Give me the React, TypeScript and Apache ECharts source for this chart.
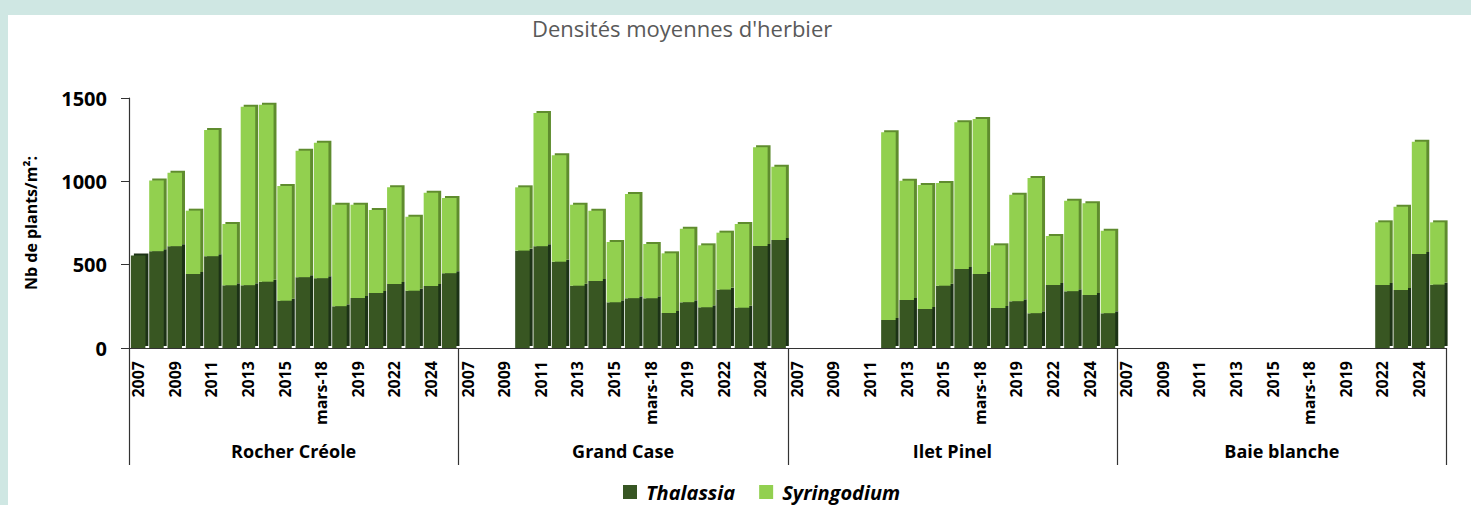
import React, { useEffect, useRef } from "react";
import * as echarts from "echarts";

const sites = ["Rocher Créole", "Grand Case", "Ilet Pinel", "Baie blanche"];
const periods = ["2007", "2008", "2009", "2010", "2011", "2012", "2013", "2014", "2015", "2017", "mars-18", "nov-18", "2019", "2021", "2022", "2023", "2024", "2025"];
const yTicks = [0, 500, 1000, 1500];

const N = null;
const thalassiaRocher = [555, 580, 610, 444, 550, 376, 376, 398, 284, 424, 418, 250, 300, 330, 384, 344, 372, 448];
const syringodiumRocher = [N, 425, 442, 380, 758, 368, 1072, 1062, 688, 760, 814, 610, 560, 498, 580, 444, 560, 452];
const thalassiaGrandCase = [N, N, N, 584, 610, 518, 374, 402, 274, 298, 298, 210, 274, 244, 350, 242, 612, 648];
const syringodiumGrandCase = [N, N, N, 380, 800, 638, 486, 422, 362, 626, 326, 358, 442, 372, 342, 502, 592, 440];
const thalassiaPinel = [N, N, N, N, N, 168, 288, 234, 374, 474, 444, 240, 280, 208, 378, 340, 318, 208];
const syringodiumPinel = [N, N, N, N, N, 1126, 716, 744, 616, 880, 930, 376, 640, 812, 294, 544, 550, 496];
const thalassiaBaie = [N, N, N, N, N, N, N, N, N, N, N, N, N, N, 378, 348, 564, 380];
const syringodiumBaie = [N, N, N, N, N, N, N, N, N, N, N, N, N, N, 376, 500, 674, 374];

const thalassia = [...thalassiaRocher, ...thalassiaGrandCase, ...thalassiaPinel, ...thalassiaBaie];
const syringodium = [...syringodiumRocher, ...syringodiumGrandCase, ...syringodiumPinel, ...syringodiumBaie];
const categories = sites.flatMap((s, si) => periods.map((p) => p + "|" + si));

const FONT = "Open Sans";

export default function App() {
  const ref = useRef<HTMLDivElement>(null);
  useEffect(() => {
    if (!ref.current) return;
    const chart = echarts.init(ref.current, null, { renderer: "svg" });
    chart.setOption({
      animation: false,
      backgroundColor: "#ffffff",
      title: {
        text: "Densités moyennes d'herbier",
        left: 527,
        top: 12,
        textStyle: { fontFamily: FONT, fontSize: 22, fontWeight: "normal", color: "#595959" },
      },
      graphic: [
        { type: "rect", shape: { x: 0, y: 0, width: 1471, height: 15 }, style: { fill: "#cfe7e3" }, z: -10 },
        { type: "rect", shape: { x: 0, y: 0, width: 8, height: 505 }, style: { fill: "#cfe7e3" }, z: -10 },
      ],
      legend: {
        left: 618,
        top: 477,
        icon: "rect",
        itemWidth: 14,
        itemHeight: 14,
        itemGap: 24,
        textStyle: { fontFamily: FONT, fontSize: 20, fontWeight: "bold", fontStyle: "italic", color: "#000", padding: [0, 0, 0, 4] },
        data: ["Thalassia", "Syringodium"],
      },
      grid: { left: 129, right: 24.5, top: 98, bottom: 157, containLabel: false },
      xAxis: [
        {
          type: "category",
          data: categories,
          axisLine: { lineStyle: { color: "#333", width: 1.2 } },
          axisTick: { show: false },
          axisLabel: {
            interval: 1,
            rotate: 90,
            margin: 13,
            fontFamily: FONT,
            fontSize: 16,
            fontWeight: "bold",
            color: "#000",
            formatter: (v: string) => v.split("|")[0],
          },
        },
        {
          type: "category",
          data: sites,
          position: "bottom",
          axisLine: { show: false },
          axisTick: { show: true, length: 117, lineStyle: { color: "#333", width: 1.2 } },
          axisLabel: {
            margin: 94,
            fontFamily: FONT,
            fontSize: 18,
            fontWeight: "bold",
            color: "#000",
          },
          splitLine: { show: false },
        },
      ],
      yAxis: {
        type: "value",
        min: 0,
        max: 1500,
        interval: 500,
        name: "Nb de plants/m²:",
        nameLocation: "middle",
        nameGap: 90,
        nameTextStyle: { fontFamily: FONT, fontSize: 16, fontWeight: "bold", color: "#000" },
        axisLine: { show: true, lineStyle: { color: "#333", width: 1.2 } },
        axisTick: { show: true, length: 8, lineStyle: { color: "#333" } },
        splitLine: { show: false },
        axisLabel: {
          margin: 22,
          fontFamily: FONT,
          fontSize: 20,
          fontWeight: "bold",
          color: "#000",
          customValues: yTicks,
          formatter: (v: number) => String(v),
        },
      },
      series: [
        {
          name: "Thalassia",
          type: "bar",
          stack: "total",
          barWidth: 14.5,
          data: thalassia,
          itemStyle: {
            color: "#375623",
            shadowColor: "#1f3212",
            shadowOffsetX: 3,
            shadowOffsetY: -2,
            shadowBlur: 0,
          },
        },
        {
          name: "Syringodium",
          type: "bar",
          stack: "total",
          barWidth: 14.5,
          data: syringodium,
          itemStyle: {
            color: "#92d050",
            shadowColor: "#5f8c2e",
            shadowOffsetX: 3,
            shadowOffsetY: -2,
            shadowBlur: 0,
          },
        },
      ],
    });
    return () => chart.dispose();
  }, []);
  return (
    <div style={{ position: "fixed", left: 0, top: 0, width: 1471, height: 505 }}>
      <div ref={ref} style={{ width: 1471, height: 505 }} />
    </div>
  );
}
